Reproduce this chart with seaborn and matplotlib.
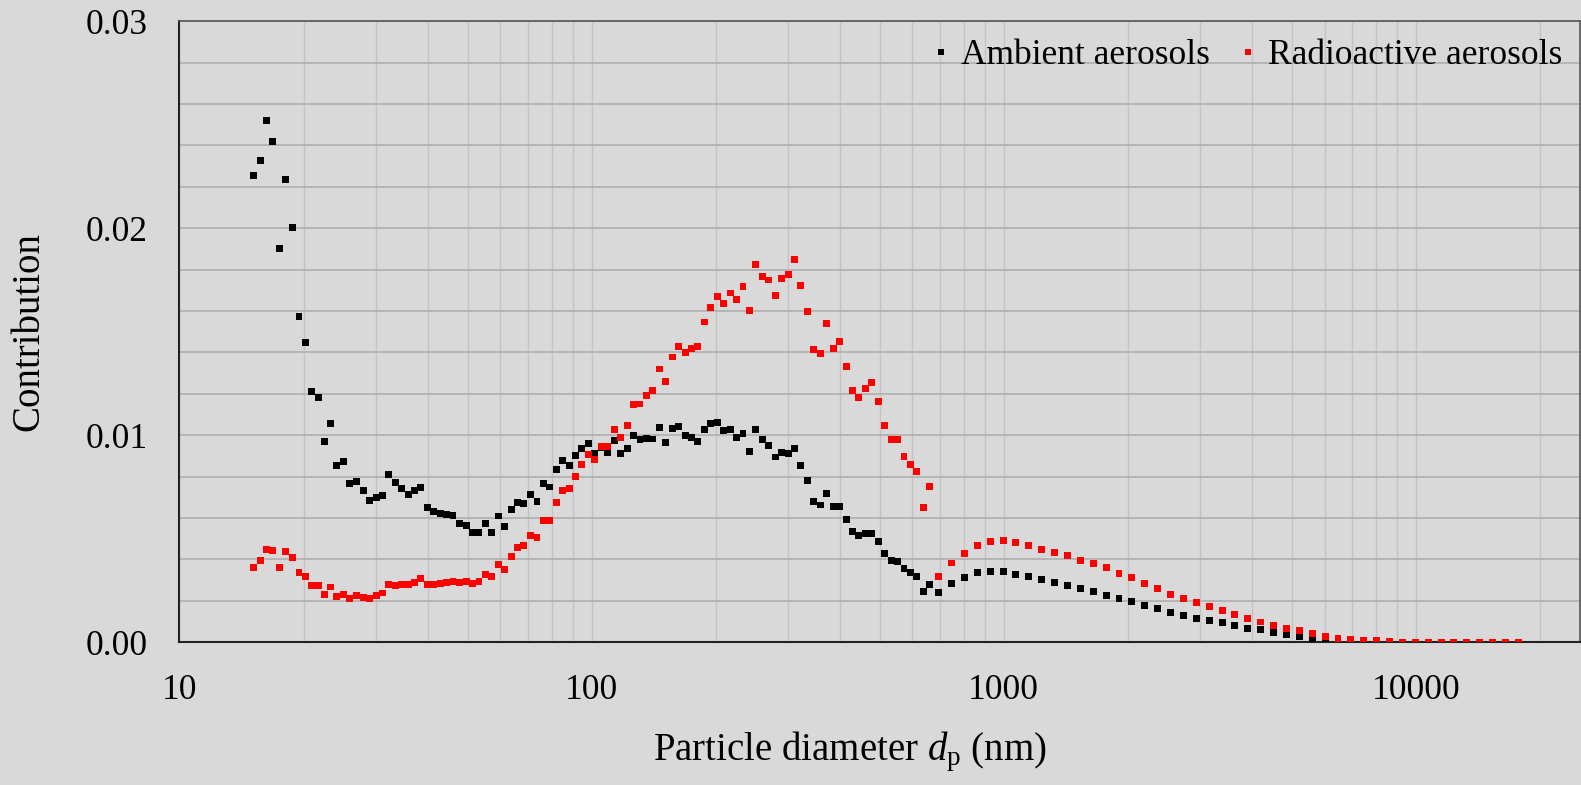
import numpy as np
import pandas as pd
import matplotlib
matplotlib.use("Agg")
import matplotlib.pyplot as plt
import matplotlib.ticker as mticker
import seaborn as sns

# ---- data ----
smps_d = [15.1, 15.7, 16.3, 16.8, 17.5, 18.1, 18.8, 19.5, 20.2, 20.9, 21.7, 22.5, 23.3, 24.1, 25.0,
          25.9, 26.9, 27.9, 28.9, 30.0, 31.1, 32.2, 33.4, 34.6, 35.9, 37.2, 38.5, 40.0, 41.4, 42.9,
          44.5, 46.1, 47.8, 49.6, 51.4, 53.3, 55.2, 57.3, 59.4, 61.5, 63.8, 66.1, 68.5, 71.0, 73.7,
          76.4, 79.1, 82.0, 85.1, 88.2, 91.4, 94.7, 98.2, 101.8, 105.5, 109.4, 113.4, 117.6, 121.9,
          126.3, 131.0, 135.8, 140.7, 145.9, 151.2, 156.8, 162.5, 168.5, 174.7, 181.1, 187.7, 194.6,
          201.7, 209.1, 216.7, 224.7, 232.9, 241.4, 250.3, 259.5, 269.0, 278.8, 289.0, 299.6, 310.6,
          322.0, 333.8, 346.0, 358.7, 371.8, 385.4, 399.5, 414.2, 429.4, 445.1, 461.4, 478.3, 495.8,
          514.0, 532.8, 552.3, 572.5, 593.5, 615.3, 637.8, 661.2]

aps_d = [695, 746.9, 802.6, 862.5, 926.9, 996.0, 1070, 1150, 1236, 1328, 1427, 1534, 1648, 1771,
         1903, 2045, 2198, 2362, 2538, 2727, 2931, 3150, 3385, 3637, 3909, 4200, 4514, 4850, 5212,
         5601, 6019, 6468, 6950, 7469, 8026, 8625, 9269, 9960, 10700, 11500, 12360, 13280, 14270,
         15340, 16480, 17710]

ambient_smps = [0.02255, 0.02326, 0.02520, 0.02418, 0.01900, 0.02236, 0.02005, 0.01574, 0.01448,
                0.01212, 0.01183, 0.00968, 0.01056, 0.00854, 0.00874, 0.00769, 0.00778, 0.00732,
                0.00684, 0.00698, 0.00710, 0.00810, 0.00771, 0.00745, 0.00714, 0.00733, 0.00747,
                0.00653, 0.00632, 0.00624, 0.00616, 0.00611, 0.00576, 0.00565, 0.00531, 0.00531,
                0.00573, 0.00531, 0.00610, 0.00560, 0.00640, 0.00677, 0.00669, 0.00716, 0.00682,
                0.00766, 0.00750, 0.00834, 0.00877, 0.00855, 0.00902, 0.00935, 0.00961, 0.00910,
                0.00940, 0.00918, 0.00974, 0.00910, 0.00935, 0.00998, 0.00978, 0.00986, 0.00982,
                0.01037, 0.00966, 0.01034, 0.01042, 0.01000, 0.00987, 0.00969, 0.01029, 0.01055,
                0.01063, 0.01021, 0.01029, 0.00987, 0.01008, 0.00920, 0.01029, 0.00979, 0.00950,
                0.00895, 0.00916, 0.00911, 0.00937, 0.00856, 0.00780, 0.00679, 0.00663, 0.00717,
                0.00654, 0.00658, 0.00595, 0.00535, 0.00514, 0.00524, 0.00527, 0.00485, 0.00430,
                0.00396, 0.00391, 0.00357, 0.00336, 0.00320, 0.00247, 0.00281]

ambient_aps = [0.00242, 0.00286, 0.00315, 0.00336, 0.00341, 0.00342, 0.00329, 0.00316, 0.00303,
               0.00287, 0.00274, 0.00258, 0.00245, 0.00227, 0.00211, 0.00195, 0.00177, 0.00161,
               0.00144, 0.00131, 0.00115, 0.00105, 0.00094, 0.00081, 0.00068, 0.00060, 0.00046,
               0.00038, 0.00028, 0.00016, 0.00007, 0.00003, 0.00001, 0.00001, 0.00001, 0.00001,
               0.0, 0.0, 0.0, 0.0, 0.0, 0.0, 0.0, 0.0, 0.0, 0.0]

radio_smps = [0.00363, 0.00397, 0.00448, 0.00445, 0.00360, 0.00440, 0.00411, 0.00335, 0.00318,
              0.00275, 0.00275, 0.00233, 0.00267, 0.00221, 0.00233, 0.00212, 0.00224, 0.00217,
              0.00212, 0.00224, 0.00238, 0.00280, 0.00275, 0.00279, 0.00279, 0.00290, 0.00308,
              0.00279, 0.00279, 0.00282, 0.00290, 0.00295, 0.00290, 0.00295, 0.00285, 0.00295,
              0.00329, 0.00316, 0.00374, 0.00353, 0.00416, 0.00458, 0.00468, 0.00518, 0.00505,
              0.00590, 0.00590, 0.00677, 0.00732, 0.00742, 0.00800, 0.00860, 0.00906, 0.00885,
              0.00945, 0.00945, 0.01027, 0.00990, 0.01045, 0.01148, 0.01151, 0.01194, 0.01216,
              0.01320, 0.01261, 0.01378, 0.01430, 0.01401, 0.01417, 0.01427, 0.01547, 0.01618,
              0.01670, 0.01636, 0.01687, 0.01654, 0.01720, 0.01602, 0.01826, 0.01768, 0.01750,
              0.01674, 0.01755, 0.01776, 0.01850, 0.01724, 0.01599, 0.01414, 0.01396, 0.01539,
              0.01420, 0.01451, 0.01333, 0.01216, 0.01182, 0.01224, 0.01253, 0.01164, 0.01047,
              0.00979, 0.00979, 0.00899, 0.00861, 0.00823, 0.00650, 0.00751]

radio_aps = [0.00320, 0.00383, 0.00430, 0.00467, 0.00485, 0.00490, 0.00482, 0.00469, 0.00448,
             0.00435, 0.00418, 0.00397, 0.00381, 0.00360, 0.00334, 0.00313, 0.00284, 0.00258,
             0.00232, 0.00211, 0.00190, 0.00174, 0.00153, 0.00135, 0.00115, 0.00098, 0.00081,
             0.00067, 0.00056, 0.00041, 0.00030, 0.00020, 0.00015, 0.00008, 0.00008, 0.00003,
             0.00001, 0.0, 0.0, 0.0, 0.0, 0.0, 0.0, 0.0, 0.0, 0.0]

series_names = ["Ambient aerosols", "Radioactive aerosols"]
series_colors = ["#000000", "#ff0000"]
y_ticks = [0.00, 0.01, 0.02, 0.03]
x_ticks = [10, 100, 1000, 10000]

# ---- build table ----
frames = []
for name, ys in [(series_names[0], ambient_smps + ambient_aps),
                 (series_names[1], radio_smps + radio_aps)]:
    frames.append(pd.DataFrame({"d": smps_d + aps_d, "c": ys, "series": name}))
df = pd.concat(frames, ignore_index=True)

# ---- style ----
sns.set_theme(style="white")
plt.rcParams["font.family"] = ["Liberation Serif", "DejaVu Serif"]
plt.rcParams["mathtext.fontset"] = "custom"
plt.rcParams["mathtext.rm"] = "Liberation Serif"
plt.rcParams["mathtext.it"] = "Liberation Serif:italic"

bg = "#d9d9d9"
fig = plt.figure(figsize=(15.81, 7.85), dpi=100, facecolor=bg)
ax = fig.add_axes([0.1135, 0.1818, 0.8859, 0.7912])
ax.set_facecolor(bg)

sns.scatterplot(data=df, x="d", y="c", hue="series", hue_order=series_names,
                palette=series_colors, marker="s", s=25, linewidth=0, ax=ax,
                zorder=3, legend=True)

ax.set_xscale("log")
ax.set_xlim(10, 25000)
ax.set_ylim(0, 0.03)

ax.xaxis.set_major_locator(mticker.FixedLocator(x_ticks))
ax.xaxis.set_major_formatter(mticker.FuncFormatter(lambda v, _: f"{v:g}"))
ax.xaxis.set_minor_locator(mticker.LogLocator(base=10, subs=np.arange(2, 10)))
ax.xaxis.set_minor_formatter(mticker.NullFormatter())
ax.yaxis.set_major_locator(mticker.FixedLocator(y_ticks))
ax.yaxis.set_major_formatter(mticker.FormatStrFormatter("%.2f"))
ax.yaxis.set_minor_locator(mticker.MultipleLocator(0.002))

ax.grid(True, which="both", axis="x", color="#c4c4c4", lw=1.0, zorder=0)
ax.grid(True, which="both", axis="y", color="#b2b2b2", lw=1.3, zorder=0)
ax.set_axisbelow(True)

ax.tick_params(axis="both", which="major", direction="out", length=12, width=1.2,
               color="#333333", labelsize=25.5, labelcolor="black")
ax.tick_params(axis="both", which="minor", direction="out", length=9, width=1.0,
               color="#333333")
ax.tick_params(axis="y", which="major", pad=11)
ax.tick_params(axis="x", which="major", pad=7, length=16)
ax.tick_params(axis="x", which="minor", length=14)

for side in ["left", "bottom"]:
    ax.spines[side].set_color("#222222")
    ax.spines[side].set_linewidth(1.5)
for side in ["top", "right"]:
    ax.spines[side].set_color("#555555")
    ax.spines[side].set_linewidth(1.2)

ax.set_ylabel("Contribution", fontsize=28, color="black")
ax.yaxis.label.set_va("center")
ax.yaxis.set_label_coords(-0.1075, 0.5)
ax.set_xlabel("Particle diameter $d_\\mathrm{p}$ (nm)", fontsize=28, color="black")
ax.xaxis.label.set_va("center")
ax.xaxis.set_label_coords(0.479, -0.177)

leg = ax.legend(loc="upper right", bbox_to_anchor=(1.0, 1.0), ncol=2, frameon=False,
                fontsize=25.5, markerscale=0.9, handletextpad=0.18, columnspacing=0.65,
                borderaxespad=0.1, handlelength=0.8)
for t in leg.get_texts():
    t.set_color("black")

fig.savefig("out.png", dpi=100, facecolor=bg)
